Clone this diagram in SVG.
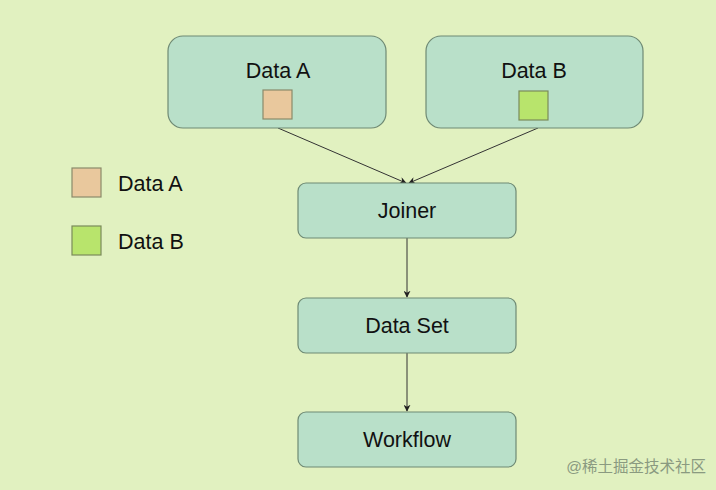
<svg xmlns="http://www.w3.org/2000/svg" width="716" height="490" viewBox="0 0 716 490">
<defs>
<style>
.node{fill:#b9e0c9;stroke:#6f8a74;stroke-width:1.2}
.t{font-family:"Liberation Sans",Arial,sans-serif;font-size:21.5px;fill:#111;text-anchor:middle}
.lt{font-family:"Liberation Sans",Arial,sans-serif;font-size:21.5px;fill:#111}
.sqA{fill:#e9c89d;stroke:#8a8a6a;stroke-width:1.2}
.sqB{fill:#b8e46c;stroke:#7a8a5a;stroke-width:1.2}
.c{stroke:#333;stroke-width:1;fill:none;marker-end:url(#ah)}
</style>
<marker id="ah" viewBox="0 0 10 10" refX="9" refY="5" markerWidth="7" markerHeight="7" orient="auto" markerUnits="userSpaceOnUse">
<path d="M0,0 L10,5 L0,10 L3,5 Z" fill="#222"/>
</marker>
</defs>
<rect width="716" height="490" fill="#e1f1c0"/>
<g id="connectors">
<line class="c" x1="278" y1="128" x2="406" y2="183"/>
<line class="c" x1="538" y1="128" x2="409" y2="183"/>
<line class="c" x1="407" y1="238" x2="407" y2="297"/>
<line class="c" x1="407" y1="353" x2="407" y2="411"/>
</g>
<g id="dataA">
<rect class="node" x="168" y="36" width="218" height="92" rx="15"/>
<text class="t" x="278" y="78">Data A</text>
<rect class="sqA" x="263" y="90" width="29" height="29"/>
</g>
<g id="dataB">
<rect class="node" x="426" y="36" width="217" height="92" rx="15"/>
<text class="t" x="534" y="78">Data B</text>
<rect class="sqB" x="519" y="91" width="29" height="29"/>
</g>
<g id="joiner">
<rect class="node" x="298" y="183" width="218" height="55" rx="8"/>
<text class="t" x="407" y="218">Joiner</text>
</g>
<g id="dataset">
<rect class="node" x="298" y="298" width="218" height="55" rx="8"/>
<text class="t" x="407" y="333">Data Set</text>
</g>
<g id="workflow">
<rect class="node" x="298" y="412" width="218" height="55" rx="8"/>
<text class="t" x="407" y="447">Workflow</text>
</g>
<g id="legend">
<rect class="sqA" x="72" y="168" width="29" height="29"/>
<text class="lt" x="118" y="191">Data A</text>
<rect class="sqB" x="72" y="226" width="29" height="29"/>
<text class="lt" x="118" y="249">Data B</text>
</g>
<text x="706" y="472" text-anchor="end" font-family="'Liberation Sans','Noto Sans CJK SC',sans-serif" font-size="15.5" fill="#8a9a80">@稀土掘金技术社区</text>
</svg>
